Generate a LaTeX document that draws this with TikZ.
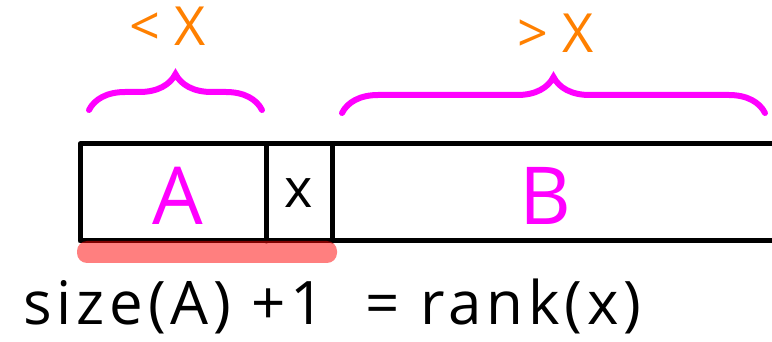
\documentclass[tikz,border=0pt]{standalone}
\usepackage{fontspec}
\setmainfont{Open Sans}
\usetikzlibrary{decorations.pathreplacing}
\definecolor{hlmag}{HTML}{FF00FF}
\definecolor{hlorange}{HTML}{FF8000}
\tikzset{
  cellline/.style={line width=5pt,line cap=round,line join=round},
  curly/.style={hlmag,line width=6pt,line cap=round,
    decorate,decoration={brace,amplitude=36pt}},
  bound/.style={hlorange,font=\fontsize{54}{58}\selectfont},
  part/.style={hlmag,font=\fontsize{80}{84}\selectfont},
}
\begin{document}
\begin{tikzpicture}[x=1pt,y=-1pt]
\useasboundingbox (0,0) rectangle (772,342);
%
% Feld: A | x | B (rechts offen)
\draw[cellline] (790,144) -- (80,144) -- (80,241) -- (790,241);
\draw[cellline] (266,144) -- (266,241);
\draw[cellline] (332,144) -- (332,241);
\node[part] (A) at (178,196) {A};
\node[font=\fontsize{54}{58}\selectfont] (x) at (299,193) {x};
\node[part] (B) at (545,196) {B};
%
% Markierung unter A und x
\fill[red,opacity=0.5,rounded corners=10pt] (77,241) rectangle (337,263);
%
% Klammern oben
\coordinate (la) at (89,110);
\coordinate (lb) at (262,110);
\coordinate (ra) at (342,113);
\coordinate (rb) at (765,113);
\draw[curly] (la) -- (lb);
\draw[curly] (ra) -- (rb);
\node[bound] (lt) at (168,26) {<\ X};
\node[bound] (gt) at (556,33) {>\ X};
%
% Formel
\node[anchor=base west,font=\fontsize{60}{64}\selectfont\addfontfeature{LetterSpace=8}]
  (eq) at (20,324) {size(A) +1\ \ = rank(x)};
\end{tikzpicture}
\end{document}
